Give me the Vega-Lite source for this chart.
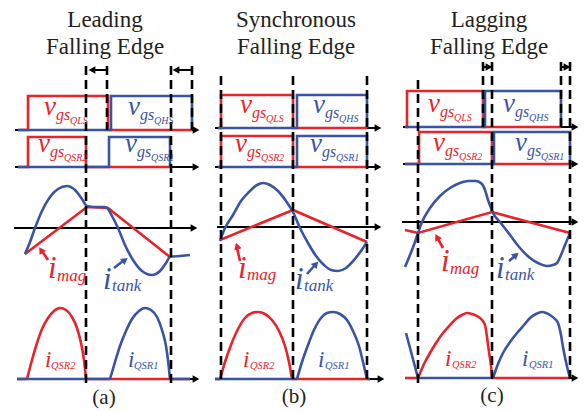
{
"$schema": "https://vega.github.io/schema/vega-lite/v6.json",
"width": 588, "height": 412, "padding": 0,
"autosize": {"type": "fit", "contains": "padding"},
"background": "white",
"config": {"view": {"stroke": null}, "text": {"font": "Liberation Serif"}},
"datasets": {
"ln": [
{"id":"k1","c":"k","m":"l","x":15,"y":130},{"id":"k1","c":"k","m":"l","x":196,"y":130},
{"id":"k2","c":"k","m":"l","x":15,"y":167},{"id":"k2","c":"k","m":"l","x":196,"y":167},
{"id":"k3","c":"k","m":"l","x":14,"y":228},{"id":"k3","c":"k","m":"l","x":194,"y":228},
{"id":"k4","c":"k","m":"l","x":17,"y":379},{"id":"k4","c":"k","m":"l","x":196,"y":379},
{"id":"k5","c":"k","m":"l","x":215,"y":128},{"id":"k5","c":"k","m":"l","x":378,"y":128},
{"id":"k6","c":"k","m":"l","x":215,"y":167},{"id":"k6","c":"k","m":"l","x":378,"y":167},
{"id":"k7","c":"k","m":"l","x":217,"y":227},{"id":"k7","c":"k","m":"l","x":378,"y":227},
{"id":"k8","c":"k","m":"l","x":215,"y":379},{"id":"k8","c":"k","m":"l","x":381,"y":379},
{"id":"k9","c":"k","m":"l","x":403,"y":127},{"id":"k9","c":"k","m":"l","x":575,"y":127},
{"id":"k10","c":"k","m":"l","x":403,"y":164},{"id":"k10","c":"k","m":"l","x":575,"y":164},
{"id":"k11","c":"k","m":"l","x":402,"y":222},{"id":"k11","c":"k","m":"l","x":575,"y":222},
{"id":"k12","c":"k","m":"l","x":405,"y":378},{"id":"k12","c":"k","m":"l","x":575,"y":378},
{"id":"k13","c":"k","m":"l","x":107,"y":70},{"id":"k13","c":"k","m":"l","x":93,"y":70},
{"id":"k14","c":"k","m":"l","x":192,"y":70},{"id":"k14","c":"k","m":"l","x":177,"y":70},
{"id":"k15","c":"k","m":"l","x":483,"y":67},{"id":"k15","c":"k","m":"l","x":488,"y":67},
{"id":"k16","c":"k","m":"l","x":561,"y":67},{"id":"k16","c":"k","m":"l","x":566,"y":67},

{"id":"r1","c":"r","m":"l","x":18,"y":130},{"id":"r1","c":"r","m":"l","x":28,"y":130},{"id":"r1","c":"r","m":"l","x":28,"y":96},{"id":"r1","c":"r","m":"l","x":108,"y":96},{"id":"r1","c":"r","m":"l","x":108,"y":130},{"id":"r1","c":"r","m":"l","x":192,"y":130},
{"id":"r2","c":"r","m":"l","x":18,"y":167},{"id":"r2","c":"r","m":"l","x":28,"y":167},{"id":"r2","c":"r","m":"l","x":28,"y":137},{"id":"r2","c":"r","m":"l","x":86,"y":137},{"id":"r2","c":"r","m":"l","x":86,"y":167},{"id":"r2","c":"r","m":"l","x":170,"y":167},
{"id":"r3","c":"r","m":"l","x":25,"y":254},{"id":"r3","c":"r","m":"l","x":87,"y":207},{"id":"r3","c":"r","m":"l","x":108,"y":208},{"id":"r3","c":"r","m":"l","x":170,"y":257},
{"id":"r4","c":"r","m":"l","x":17,"y":379},{"id":"r4","c":"r","m":"l","x":27,"y":379},
{"id":"r5","c":"r","m":"l","x":86,"y":379},{"id":"r5","c":"r","m":"l","x":190,"y":379},
{"id":"r6","c":"r","m":"l","x":48,"y":260},{"id":"r6","c":"r","m":"l","x":42,"y":251},
{"id":"r7","c":"r","m":"l","x":218,"y":128},{"id":"r7","c":"r","m":"l","x":221,"y":128},{"id":"r7","c":"r","m":"l","x":221,"y":95},{"id":"r7","c":"r","m":"l","x":293,"y":95},{"id":"r7","c":"r","m":"l","x":293,"y":128},{"id":"r7","c":"r","m":"l","x":367,"y":128},
{"id":"r8","c":"r","m":"l","x":218,"y":167},{"id":"r8","c":"r","m":"l","x":221,"y":167},{"id":"r8","c":"r","m":"l","x":221,"y":136},{"id":"r8","c":"r","m":"l","x":293,"y":136},{"id":"r8","c":"r","m":"l","x":293,"y":167},{"id":"r8","c":"r","m":"l","x":367,"y":167},
{"id":"r9","c":"r","m":"l","x":220,"y":240},{"id":"r9","c":"r","m":"l","x":293,"y":210},{"id":"r9","c":"r","m":"l","x":367,"y":242},
{"id":"r10","c":"r","m":"l","x":215,"y":379},{"id":"r10","c":"r","m":"l","x":220,"y":379},
{"id":"r11","c":"r","m":"l","x":292,"y":379},{"id":"r11","c":"r","m":"l","x":370,"y":379},
{"id":"r12","c":"r","m":"l","x":240,"y":261},{"id":"r12","c":"r","m":"l","x":237,"y":248},
{"id":"r13","c":"r","m":"l","x":405,"y":127},{"id":"r13","c":"r","m":"l","x":407,"y":127},{"id":"r13","c":"r","m":"l","x":407,"y":91},{"id":"r13","c":"r","m":"l","x":483,"y":91},{"id":"r13","c":"r","m":"l","x":483,"y":127},{"id":"r13","c":"r","m":"l","x":561,"y":127},
{"id":"r14","c":"r","m":"l","x":405,"y":164},{"id":"r14","c":"r","m":"l","x":419,"y":164},{"id":"r14","c":"r","m":"l","x":419,"y":132},{"id":"r14","c":"r","m":"l","x":492,"y":132},{"id":"r14","c":"r","m":"l","x":492,"y":164},{"id":"r14","c":"r","m":"l","x":570,"y":164},
{"id":"r15","c":"r","m":"l","x":405,"y":230},{"id":"r15","c":"r","m":"l","x":418,"y":233},{"id":"r15","c":"r","m":"l","x":492,"y":212},{"id":"r15","c":"r","m":"l","x":570,"y":233},
{"id":"r16","c":"r","m":"l","x":405,"y":378},{"id":"r16","c":"r","m":"l","x":418,"y":378},
{"id":"r17","c":"r","m":"l","x":492,"y":378},{"id":"r17","c":"r","m":"l","x":570,"y":378},
{"id":"r18","c":"r","m":"l","x":443,"y":248},{"id":"r18","c":"r","m":"l","x":438,"y":239},

{"id":"b1","c":"b","m":"l","x":18,"y":130},{"id":"b1","c":"b","m":"l","x":111,"y":130},{"id":"b1","c":"b","m":"l","x":111,"y":96},{"id":"b1","c":"b","m":"l","x":192,"y":96},{"id":"b1","c":"b","m":"l","x":192,"y":130},
{"id":"b2","c":"b","m":"l","x":18,"y":167},{"id":"b2","c":"b","m":"l","x":109,"y":167},{"id":"b2","c":"b","m":"l","x":109,"y":137},{"id":"b2","c":"b","m":"l","x":170,"y":137},{"id":"b2","c":"b","m":"l","x":170,"y":167},
{"id":"b3","c":"b","m":"l","x":17,"y":379},{"id":"b3","c":"b","m":"l","x":110,"y":379},
{"id":"b4","c":"b","m":"l","x":170,"y":379},{"id":"b4","c":"b","m":"l","x":190,"y":379},
{"id":"b5","c":"b","m":"l","x":114,"y":268},{"id":"b5","c":"b","m":"l","x":123,"y":261},
{"id":"b6","c":"b","m":"l","x":218,"y":128},{"id":"b6","c":"b","m":"l","x":297,"y":128},{"id":"b6","c":"b","m":"l","x":297,"y":95},{"id":"b6","c":"b","m":"l","x":367,"y":95},{"id":"b6","c":"b","m":"l","x":367,"y":128},
{"id":"b7","c":"b","m":"l","x":218,"y":167},{"id":"b7","c":"b","m":"l","x":297,"y":167},{"id":"b7","c":"b","m":"l","x":297,"y":136},{"id":"b7","c":"b","m":"l","x":367,"y":136},{"id":"b7","c":"b","m":"l","x":367,"y":167},
{"id":"b8","c":"b","m":"l","x":215,"y":379},{"id":"b8","c":"b","m":"l","x":297,"y":379},
{"id":"b9","c":"b","m":"l","x":367,"y":379},{"id":"b9","c":"b","m":"l","x":370,"y":379},
{"id":"b10","c":"b","m":"l","x":307,"y":274},{"id":"b10","c":"b","m":"l","x":315,"y":265},
{"id":"b11","c":"b","m":"l","x":405,"y":127},{"id":"b11","c":"b","m":"l","x":485,"y":127},{"id":"b11","c":"b","m":"l","x":485,"y":91},{"id":"b11","c":"b","m":"l","x":561,"y":91},{"id":"b11","c":"b","m":"l","x":561,"y":127},
{"id":"b12","c":"b","m":"l","x":405,"y":164},{"id":"b12","c":"b","m":"l","x":494,"y":164},{"id":"b12","c":"b","m":"l","x":494,"y":132},{"id":"b12","c":"b","m":"l","x":570,"y":132},{"id":"b12","c":"b","m":"l","x":570,"y":164},
{"id":"b13","c":"b","m":"l","x":418,"y":378},{"id":"b13","c":"b","m":"l","x":493,"y":378},
{"id":"b14","c":"b","m":"l","x":406,"y":333},{"id":"b14","c":"b","m":"l","x":418,"y":378},
{"id":"b15","c":"b","m":"l","x":509,"y":261},{"id":"b15","c":"b","m":"l","x":515,"y":256},

{"id":"hr1","c":"r","m":"c","x":27,"y":379},{"id":"hr1","c":"r","m":"c","x":32,"y":360},{"id":"hr1","c":"r","m":"c","x":37,"y":343},{"id":"hr1","c":"r","m":"c","x":42,"y":329},{"id":"hr1","c":"r","m":"c","x":48,"y":318},{"id":"hr1","c":"r","m":"c","x":54,"y":311},{"id":"hr1","c":"r","m":"c","x":60,"y":308},{"id":"hr1","c":"r","m":"c","x":66,"y":310},{"id":"hr1","c":"r","m":"c","x":72,"y":317},{"id":"hr1","c":"r","m":"c","x":77,"y":328},{"id":"hr1","c":"r","m":"c","x":81,"y":343},{"id":"hr1","c":"r","m":"c","x":84,"y":360},{"id":"hr1","c":"r","m":"c","x":86,"y":379},
{"id":"hr2","c":"r","m":"c","x":220,"y":379},{"id":"hr2","c":"r","m":"c","x":225,"y":362},{"id":"hr2","c":"r","m":"c","x":231,"y":345},{"id":"hr2","c":"r","m":"c","x":238,"y":329},{"id":"hr2","c":"r","m":"c","x":245,"y":318},{"id":"hr2","c":"r","m":"c","x":252,"y":313},{"id":"hr2","c":"r","m":"c","x":258,"y":312},{"id":"hr2","c":"r","m":"c","x":265,"y":314},{"id":"hr2","c":"r","m":"c","x":272,"y":320},{"id":"hr2","c":"r","m":"c","x":279,"y":331},{"id":"hr2","c":"r","m":"c","x":285,"y":346},{"id":"hr2","c":"r","m":"c","x":289,"y":362},{"id":"hr2","c":"r","m":"c","x":292,"y":379},
{"id":"hr3","c":"r","m":"c","x":418,"y":378},{"id":"hr3","c":"r","m":"c","x":424,"y":364},{"id":"hr3","c":"r","m":"c","x":430,"y":353},{"id":"hr3","c":"r","m":"c","x":436,"y":343},{"id":"hr3","c":"r","m":"c","x":443,"y":333},{"id":"hr3","c":"r","m":"c","x":450,"y":325},{"id":"hr3","c":"r","m":"c","x":457,"y":318},{"id":"hr3","c":"r","m":"c","x":462,"y":315},{"id":"hr3","c":"r","m":"c","x":467,"y":313},{"id":"hr3","c":"r","m":"c","x":472,"y":314},{"id":"hr3","c":"r","m":"c","x":477,"y":316},{"id":"hr3","c":"r","m":"c","x":482,"y":320},{"id":"hr3","c":"r","m":"c","x":485,"y":325},{"id":"hr3","c":"r","m":"c","x":487,"y":337},{"id":"hr3","c":"r","m":"c","x":489,"y":352},{"id":"hr3","c":"r","m":"c","x":491,"y":366},{"id":"hr3","c":"r","m":"c","x":492,"y":378},

{"id":"ta","c":"b","m":"c","x":25,"y":254},{"id":"ta","c":"b","m":"c","x":30,"y":242},{"id":"ta","c":"b","m":"c","x":35,"y":228},{"id":"ta","c":"b","m":"c","x":42,"y":211},{"id":"ta","c":"b","m":"c","x":50,"y":197},{"id":"ta","c":"b","m":"c","x":58,"y":189},{"id":"ta","c":"b","m":"c","x":67,"y":186},{"id":"ta","c":"b","m":"c","x":75,"y":190},{"id":"ta","c":"b","m":"c","x":82,"y":199},{"id":"ta","c":"b","m":"c","x":87,"y":206},{"id":"ta","c":"b","m":"c","x":95,"y":207},{"id":"ta","c":"b","m":"c","x":105,"y":207},{"id":"ta","c":"b","m":"c","x":108,"y":209},{"id":"ta","c":"b","m":"c","x":112,"y":216},{"id":"ta","c":"b","m":"c","x":118,"y":228},{"id":"ta","c":"b","m":"c","x":125,"y":245},{"id":"ta","c":"b","m":"c","x":133,"y":260},{"id":"ta","c":"b","m":"c","x":142,"y":271},{"id":"ta","c":"b","m":"c","x":152,"y":275},{"id":"ta","c":"b","m":"c","x":160,"y":271},{"id":"ta","c":"b","m":"c","x":166,"y":263},{"id":"ta","c":"b","m":"c","x":170,"y":257},{"id":"ta","c":"b","m":"c","x":180,"y":256},{"id":"ta","c":"b","m":"c","x":190,"y":255},
{"id":"tb","c":"b","m":"c","x":220,"y":241},{"id":"tb","c":"b","m":"c","x":225,"y":228},{"id":"tb","c":"b","m":"c","x":233,"y":215},{"id":"tb","c":"b","m":"c","x":241,"y":201},{"id":"tb","c":"b","m":"c","x":249,"y":192},{"id":"tb","c":"b","m":"c","x":257,"y":185},{"id":"tb","c":"b","m":"c","x":263,"y":183},{"id":"tb","c":"b","m":"c","x":270,"y":185},{"id":"tb","c":"b","m":"c","x":278,"y":191},{"id":"tb","c":"b","m":"c","x":286,"y":201},{"id":"tb","c":"b","m":"c","x":293,"y":212},{"id":"tb","c":"b","m":"c","x":300,"y":228},{"id":"tb","c":"b","m":"c","x":308,"y":243},{"id":"tb","c":"b","m":"c","x":316,"y":256},{"id":"tb","c":"b","m":"c","x":324,"y":265},{"id":"tb","c":"b","m":"c","x":331,"y":270},{"id":"tb","c":"b","m":"c","x":338,"y":271},{"id":"tb","c":"b","m":"c","x":346,"y":268},{"id":"tb","c":"b","m":"c","x":354,"y":260},{"id":"tb","c":"b","m":"c","x":361,"y":251},{"id":"tb","c":"b","m":"c","x":367,"y":242},
{"id":"tc","c":"b","m":"c","x":405,"y":267},{"id":"tc","c":"b","m":"c","x":410,"y":255},{"id":"tc","c":"b","m":"c","x":415,"y":242},{"id":"tc","c":"b","m":"c","x":418,"y":233},{"id":"tc","c":"b","m":"c","x":422,"y":222},{"id":"tc","c":"b","m":"c","x":430,"y":208},{"id":"tc","c":"b","m":"c","x":440,"y":196},{"id":"tc","c":"b","m":"c","x":450,"y":188},{"id":"tc","c":"b","m":"c","x":460,"y":183},{"id":"tc","c":"b","m":"c","x":468,"y":181},{"id":"tc","c":"b","m":"c","x":476,"y":181},{"id":"tc","c":"b","m":"c","x":482,"y":184},{"id":"tc","c":"b","m":"c","x":485,"y":190},{"id":"tc","c":"b","m":"c","x":488,"y":200},{"id":"tc","c":"b","m":"c","x":491,"y":208},{"id":"tc","c":"b","m":"c","x":493,"y":213},{"id":"tc","c":"b","m":"c","x":500,"y":222},{"id":"tc","c":"b","m":"c","x":510,"y":235},{"id":"tc","c":"b","m":"c","x":520,"y":248},{"id":"tc","c":"b","m":"c","x":530,"y":258},{"id":"tc","c":"b","m":"c","x":540,"y":264},{"id":"tc","c":"b","m":"c","x":547,"y":266},{"id":"tc","c":"b","m":"c","x":553,"y":265},{"id":"tc","c":"b","m":"c","x":557,"y":263},{"id":"tc","c":"b","m":"c","x":561,"y":255},{"id":"tc","c":"b","m":"c","x":565,"y":245},{"id":"tc","c":"b","m":"c","x":570,"y":233},
{"id":"hb1","c":"b","m":"c","x":110,"y":379},{"id":"hb1","c":"b","m":"c","x":115,"y":362},{"id":"hb1","c":"b","m":"c","x":120,"y":346},{"id":"hb1","c":"b","m":"c","x":126,"y":331},{"id":"hb1","c":"b","m":"c","x":132,"y":319},{"id":"hb1","c":"b","m":"c","x":139,"y":311},{"id":"hb1","c":"b","m":"c","x":145,"y":308},{"id":"hb1","c":"b","m":"c","x":151,"y":310},{"id":"hb1","c":"b","m":"c","x":157,"y":317},{"id":"hb1","c":"b","m":"c","x":162,"y":330},{"id":"hb1","c":"b","m":"c","x":166,"y":346},{"id":"hb1","c":"b","m":"c","x":168,"y":360},{"id":"hb1","c":"b","m":"c","x":170,"y":379},
{"id":"hb2","c":"b","m":"c","x":297,"y":379},{"id":"hb2","c":"b","m":"c","x":302,"y":362},{"id":"hb2","c":"b","m":"c","x":308,"y":345},{"id":"hb2","c":"b","m":"c","x":314,"y":330},{"id":"hb2","c":"b","m":"c","x":321,"y":318},{"id":"hb2","c":"b","m":"c","x":327,"y":313},{"id":"hb2","c":"b","m":"c","x":333,"y":312},{"id":"hb2","c":"b","m":"c","x":340,"y":314},{"id":"hb2","c":"b","m":"c","x":347,"y":320},{"id":"hb2","c":"b","m":"c","x":353,"y":331},{"id":"hb2","c":"b","m":"c","x":359,"y":346},{"id":"hb2","c":"b","m":"c","x":363,"y":362},{"id":"hb2","c":"b","m":"c","x":367,"y":379},
{"id":"hb3","c":"b","m":"c","x":493,"y":378},{"id":"hb3","c":"b","m":"c","x":498,"y":364},{"id":"hb3","c":"b","m":"c","x":503,"y":353},{"id":"hb3","c":"b","m":"c","x":510,"y":342},{"id":"hb3","c":"b","m":"c","x":517,"y":333},{"id":"hb3","c":"b","m":"c","x":524,"y":325},{"id":"hb3","c":"b","m":"c","x":530,"y":318},{"id":"hb3","c":"b","m":"c","x":536,"y":314},{"id":"hb3","c":"b","m":"c","x":542,"y":312},{"id":"hb3","c":"b","m":"c","x":546,"y":313},{"id":"hb3","c":"b","m":"c","x":550,"y":315},{"id":"hb3","c":"b","m":"c","x":555,"y":319},{"id":"hb3","c":"b","m":"c","x":558,"y":323},{"id":"hb3","c":"b","m":"c","x":561,"y":335},{"id":"hb3","c":"b","m":"c","x":563,"y":347},{"id":"hb3","c":"b","m":"c","x":566,"y":362},{"id":"hb3","c":"b","m":"c","x":570,"y":378}
],
"dash": [
{"x":86,"y":66,"y2":383},{"x":107,"y":66,"y2":130},{"x":171,"y":66,"y2":383},{"x":192,"y":66,"y2":130},
{"x":221,"y":76,"y2":383},{"x":293,"y":76,"y2":383},{"x":367,"y":76,"y2":383},
{"x":418,"y":80,"y2":383},{"x":483,"y":62,"y2":127},{"x":492,"y":62,"y2":383},{"x":561,"y":62,"y2":127},{"x":570,"y":62,"y2":383}
],
"hd": [
{"x":196,"y":130,"c":"k","ang":90},{"x":196,"y":167,"c":"k","ang":90},{"x":194,"y":228,"c":"k","ang":90},{"x":196,"y":379,"c":"k","ang":90},
{"x":378,"y":128,"c":"k","ang":90},{"x":378,"y":167,"c":"k","ang":90},{"x":378,"y":227,"c":"k","ang":90},{"x":381,"y":379,"c":"k","ang":90},
{"x":575,"y":127,"c":"k","ang":90},{"x":575,"y":164,"c":"k","ang":90},{"x":575,"y":222,"c":"k","ang":90},{"x":575,"y":378,"c":"k","ang":90},
{"x":92,"y":70,"c":"k","ang":270},{"x":176,"y":70,"c":"k","ang":270},{"x":489,"y":67,"c":"k","ang":90},{"x":567,"y":67,"c":"k","ang":90},
{"x":41,"y":250,"c":"r","ang":327},{"x":237,"y":246,"c":"r","ang":344},{"x":437,"y":237,"c":"r","ang":332},
{"x":125,"y":260,"c":"b","ang":53},{"x":316,"y":264,"c":"b","ang":42},{"x":516,"y":255,"c":"b","ang":49}
],
"tx": [
{"r":"t","c":"k","x":105,"y":27,"t":"Leading"},{"r":"t","c":"k","x":105,"y":54,"t":"Falling Edge"},
{"r":"t","c":"k","x":296,"y":27,"t":"Synchronous"},{"r":"t","c":"k","x":296,"y":54,"t":"Falling Edge"},
{"r":"t","c":"k","x":489,"y":27,"t":"Lagging"},{"r":"t","c":"k","x":489,"y":54,"t":"Falling Edge"},
{"r":"p","c":"k","x":104,"y":404,"t":"(a)"},{"r":"p","c":"k","x":294,"y":403,"t":"(b)"},{"r":"p","c":"k","x":492,"y":402,"t":"(c)"},
{"r":"v","c":"r","x":44,"y":115,"t":"v"},{"r":"g","c":"r","x":56,"y":120,"t":"gs"},{"r":"q","c":"r","x":70,"y":124,"t":"QLS"},
{"r":"v","c":"r","x":38,"y":152,"t":"v"},{"r":"g","c":"r","x":50,"y":157,"t":"gs"},{"r":"q","c":"r","x":64,"y":161,"t":"QSR2"},
{"r":"v","c":"r","x":240,"y":113,"t":"v"},{"r":"g","c":"r","x":252,"y":118,"t":"gs"},{"r":"q","c":"r","x":266,"y":122,"t":"QLS"},
{"r":"v","c":"r","x":235,"y":152,"t":"v"},{"r":"g","c":"r","x":247,"y":157,"t":"gs"},{"r":"q","c":"r","x":261,"y":161,"t":"QSR2"},
{"r":"v","c":"r","x":428,"y":112,"t":"v"},{"r":"g","c":"r","x":440,"y":117,"t":"gs"},{"r":"q","c":"r","x":454,"y":121,"t":"QLS"},
{"r":"v","c":"r","x":433,"y":151,"t":"v"},{"r":"g","c":"r","x":445,"y":156,"t":"gs"},{"r":"q","c":"r","x":459,"y":160,"t":"QSR2"},
{"r":"v","c":"b","x":128,"y":115,"t":"v"},{"r":"g","c":"b","x":140,"y":120,"t":"gs"},{"r":"q","c":"b","x":154,"y":124,"t":"QHS"},
{"r":"v","c":"b","x":125,"y":152,"t":"v"},{"r":"g","c":"b","x":137,"y":157,"t":"gs"},{"r":"q","c":"b","x":151,"y":161,"t":"QSR1"},
{"r":"v","c":"b","x":313,"y":113,"t":"v"},{"r":"g","c":"b","x":325,"y":118,"t":"gs"},{"r":"q","c":"b","x":339,"y":122,"t":"QHS"},
{"r":"v","c":"b","x":310,"y":152,"t":"v"},{"r":"g","c":"b","x":322,"y":157,"t":"gs"},{"r":"q","c":"b","x":336,"y":161,"t":"QSR1"},
{"r":"v","c":"b","x":503,"y":112,"t":"v"},{"r":"g","c":"b","x":515,"y":117,"t":"gs"},{"r":"q","c":"b","x":529,"y":121,"t":"QHS"},
{"r":"v","c":"b","x":515,"y":151,"t":"v"},{"r":"g","c":"b","x":527,"y":156,"t":"gs"},{"r":"q","c":"b","x":541,"y":160,"t":"QSR1"},
{"r":"i","c":"r","x":48,"y":278,"t":"i"},{"r":"s","c":"r","x":57,"y":281,"t":"mag"},
{"r":"i","c":"b","x":103,"y":289,"t":"i"},{"r":"s","c":"b","x":112,"y":291,"t":"tank"},
{"r":"i","c":"r","x":238,"y":278,"t":"i"},{"r":"s","c":"r","x":247,"y":280,"t":"mag"},
{"r":"i","c":"b","x":295,"y":289,"t":"i"},{"r":"s","c":"b","x":304,"y":291,"t":"tank"},
{"r":"i","c":"r","x":441,"y":271,"t":"i"},{"r":"s","c":"r","x":450,"y":274,"t":"mag"},
{"r":"i","c":"b","x":496,"y":278,"t":"i"},{"r":"s","c":"b","x":505,"y":280,"t":"tank"},
{"r":"qi","c":"r","x":45,"y":367,"t":"i"},{"r":"qs","c":"r","x":51,"y":369,"t":"QSR2"},
{"r":"qi","c":"r","x":243,"y":367,"t":"i"},{"r":"qs","c":"r","x":250,"y":369,"t":"QSR2"},
{"r":"qi","c":"r","x":445,"y":366,"t":"i"},{"r":"qs","c":"r","x":452,"y":368,"t":"QSR2"},
{"r":"qi","c":"b","x":128,"y":367,"t":"i"},{"r":"qs","c":"b","x":134,"y":369,"t":"QSR1"},
{"r":"qi","c":"b","x":318,"y":367,"t":"i"},{"r":"qs","c":"b","x":325,"y":369,"t":"QSR1"},
{"r":"qi","c":"b","x":522,"y":366,"t":"i"},{"r":"qs","c":"b","x":529,"y":368,"t":"QSR1"}
]
},
"encoding": {
"x": {"field": "x", "type": "quantitative", "scale": {"domain": [0, 588], "nice": false, "zero": false}, "axis": null},
"y": {"field": "y", "type": "quantitative", "scale": {"domain": [0, 412], "nice": false, "zero": false, "reverse": true}, "axis": null}
},
"layer": [
{"data": {"name": "ln"}, "transform": [{"filter": "datum.c == 'k'"}], "mark": {"type": "line", "color": "#000000", "strokeWidth": 2}, "encoding": {"detail": {"field": "id"}, "order": {"value": null}}},
{"data": {"name": "ln"}, "transform": [{"filter": "datum.c == 'r' && datum.m == 'l'"}], "mark": {"type": "line", "color": "#E8232A", "strokeWidth": 2.6}, "encoding": {"detail": {"field": "id"}, "order": {"value": null}}},
{"data": {"name": "ln"}, "transform": [{"filter": "datum.c == 'r' && datum.m == 'c'"}], "mark": {"type": "line", "color": "#E8232A", "strokeWidth": 2.6, "interpolate": "monotone"}, "encoding": {"detail": {"field": "id"}, "order": {"value": null}}},
{"data": {"name": "ln"}, "transform": [{"filter": "datum.c == 'b' && datum.m == 'l'"}], "mark": {"type": "line", "color": "#3A54A4", "strokeWidth": 2.6}, "encoding": {"detail": {"field": "id"}, "order": {"value": null}}},
{"data": {"name": "ln"}, "transform": [{"filter": "datum.c == 'b' && datum.m == 'c'"}], "mark": {"type": "line", "color": "#3A54A4", "strokeWidth": 2.6, "interpolate": "monotone"}, "encoding": {"detail": {"field": "id"}, "order": {"value": null}}},
{"data": {"name": "dash"}, "mark": {"type": "rule", "color": "#000000", "strokeWidth": 2.6, "strokeDash": [9, 5]}, "encoding": {"y2": {"field": "y2"}}},
{"data": {"name": "hd"}, "mark": {"type": "point", "shape": "triangle-up", "filled": true, "size": 60, "opacity": 1}, "encoding": {"angle": {"field": "ang", "type": "quantitative", "scale": null}, "color": {"field": "c", "type": "nominal", "scale": {"domain": ["r", "b", "k"], "range": ["#E8232A", "#3A54A4", "#000000"]}, "legend": null}}},
{"data": {"name": "tx"}, "transform": [{"filter": "datum.r == 't'"}], "mark": {"type": "text", "font": "Liberation Serif", "fontSize": 23, "align": "center", "baseline": "alphabetic", "color": "#231F20"}, "encoding": {"text": {"field": "t"}}},
{"data": {"name": "tx"}, "transform": [{"filter": "datum.r == 'p'"}], "mark": {"type": "text", "font": "Liberation Serif", "fontSize": 21, "align": "center", "baseline": "alphabetic", "color": "#231F20"}, "encoding": {"text": {"field": "t"}}},
{"data": {"name": "tx"}, "transform": [{"filter": "datum.r == 'v'"}], "mark": {"type": "text", "font": "Liberation Serif", "fontStyle": "italic", "fontSize": 27, "align": "left", "baseline": "alphabetic"}, "encoding": {"text": {"field": "t"}, "color": {"field": "c", "type": "nominal", "legend": null}}},
{"data": {"name": "tx"}, "transform": [{"filter": "datum.r == 'g'"}], "mark": {"type": "text", "font": "Liberation Serif", "fontStyle": "italic", "fontSize": 16, "align": "left", "baseline": "alphabetic"}, "encoding": {"text": {"field": "t"}, "color": {"field": "c", "type": "nominal", "legend": null}}},
{"data": {"name": "tx"}, "transform": [{"filter": "datum.r == 'q'"}], "mark": {"type": "text", "font": "Liberation Serif", "fontStyle": "italic", "fontSize": 10, "align": "left", "baseline": "alphabetic"}, "encoding": {"text": {"field": "t"}, "color": {"field": "c", "type": "nominal", "legend": null}}},
{"data": {"name": "tx"}, "transform": [{"filter": "datum.r == 'i'"}], "mark": {"type": "text", "font": "Liberation Serif", "fontStyle": "italic", "fontSize": 31, "align": "left", "baseline": "alphabetic"}, "encoding": {"text": {"field": "t"}, "color": {"field": "c", "type": "nominal", "legend": null}}},
{"data": {"name": "tx"}, "transform": [{"filter": "datum.r == 's'"}], "mark": {"type": "text", "font": "Liberation Serif", "fontStyle": "italic", "fontSize": 17, "align": "left", "baseline": "alphabetic"}, "encoding": {"text": {"field": "t"}, "color": {"field": "c", "type": "nominal", "legend": null}}},
{"data": {"name": "tx"}, "transform": [{"filter": "datum.r == 'qi'"}], "mark": {"type": "text", "font": "Liberation Serif", "fontStyle": "italic", "fontSize": 23, "align": "left", "baseline": "alphabetic"}, "encoding": {"text": {"field": "t"}, "color": {"field": "c", "type": "nominal", "legend": null}}},
{"data": {"name": "tx"}, "transform": [{"filter": "datum.r == 'qs'"}], "mark": {"type": "text", "font": "Liberation Serif", "fontStyle": "italic", "fontSize": 10.5, "align": "left", "baseline": "alphabetic"}, "encoding": {"text": {"field": "t"}, "color": {"field": "c", "type": "nominal", "legend": null}}}
]
}
